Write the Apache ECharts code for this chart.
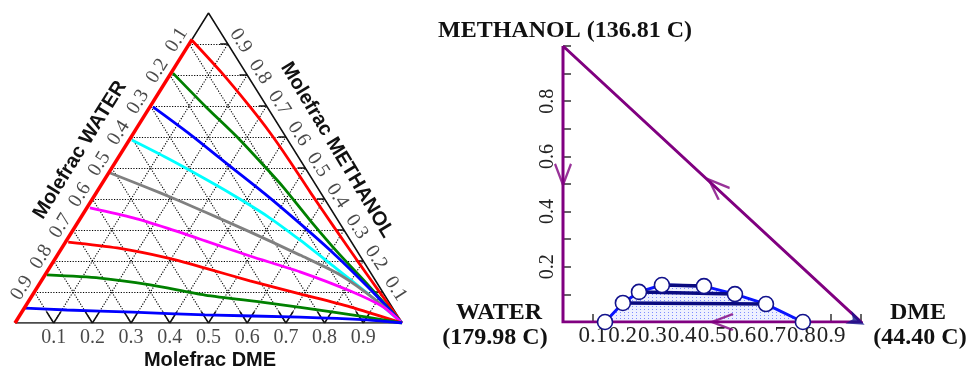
<!DOCTYPE html>
<html><head><meta charset="utf-8">
<script src="https://cdn.jsdelivr.net/npm/echarts@6/dist/echarts.min.js"></script>
<style>html,body{margin:0;padding:0;background:#fff}#c{width:971px;height:369px}</style>
</head><body><div id="c"></div>
<script>
// ===== Left ternary plot: curves as [x_DME, x_METHANOL] mole fractions =====
const curve09 = [[0,0.913],[0.132,0.806],[0.259,0.697],[0.353,0.613],[0.445,0.526],[0.555,0.419],[0.669,0.310],[0.782,0.203],[0.895,0.097],[1,0]];
const curve08 = [[0.005,0.806],[0.145,0.697],[0.274,0.600],[0.395,0.503],[0.473,0.439],[0.596,0.332],[0.722,0.226],[0.843,0.129],[1,0]];
const curve07 = [[0.008,0.697],[0.141,0.613],[0.272,0.526],[0.434,0.419],[0.573,0.323],[0.709,0.226],[0.854,0.116],[1,0]];
const curve06 = [[0.007,0.590],[0.127,0.532],[0.241,0.474],[0.357,0.413],[0.479,0.345],[0.602,0.268],[0.730,0.184],[0.861,0.097],[1,0]];
const curve05 = [[0.004,0.484],[0.110,0.442],[0.221,0.397],[0.312,0.358],[0.460,0.294],[0.627,0.219],[0.763,0.155],[0.900,0.071],[1,0]];
const curve04 = [[0.008,0.371],[0.136,0.339],[0.240,0.306],[0.359,0.265],[0.499,0.216],[0.654,0.165],[0.815,0.103],[0.925,0.052],[1,0]];
const curve03 = [[0.007,0.261],[0.143,0.242],[0.288,0.210],[0.403,0.177],[0.539,0.136],[0.689,0.094],[0.840,0.052],[1,0]];
const curve02 = [[0.005,0.155],[0.147,0.145],[0.288,0.123],[0.446,0.090],[0.619,0.065],[0.805,0.035],[0.900,0.019],[1,0]];
const curve01 = [[0.002,0.048],[0.113,0.042],[0.287,0.035],[0.478,0.026],[0.727,0.019],[0.905,0.010],[1,0]];
const leftEdge = [[0,0],[0,0.915]];
const curves = [curve09, curve08, curve07, curve06, curve05, curve04, curve03, curve02, curve01];
const curveColors = ['#ff0000','#008000','#0000ff','#00ffff','#808080','#ff00ff','#ff0000','#008000','#0000ff'];
const gridLevels = [0.1,0.2,0.3,0.4,0.5,0.6,0.7,0.8,0.9];
const tickLabels = ['0.1','0.2','0.3','0.4','0.5','0.6','0.7','0.8','0.9'];

// ===== Right plot: LLE envelope (x = DME, y = METHANOL) =====
const binodalX = [0.141, 0.201, 0.255, 0.332, 0.473, 0.577, 0.681, 0.805];
const binodalY = [0.000, 0.069, 0.109, 0.134, 0.130, 0.101, 0.065, 0.000];
const tieLines = [[1,6],[2,5],[3,4]];
const edgePath = [[0,1],[0,0],[1,0],[0,1]];
const arrowPts = [[0,0.535,0],[0.535,0,-90],[0.515,0.49,-133]]; // x, y, rotation
const dmeArrow = [[0.985,0.004]];

// ---- helpers
const tern = p => [p[0] + p[1] / 2, p[1]];
const SERIF = 'Liberation Serif';

const series = [];
// dotted grid
const gl = [];
gridLevels.forEach(v => {
  gl.push({coords: [tern([0, v]), tern([1 - v, v])]});
  gl.push({coords: [tern([v, 0]), tern([v, 1 - v])]});
  gl.push({coords: [tern([1 - v, 0]), tern([0, 1 - v])]});
});
series.push({type:'lines', coordinateSystem:'cartesian2d', xAxisIndex:0, yAxisIndex:0, z:1, silent:true,
  lineStyle:{color:'#000', width:1.1, type:[1.2,1.5], opacity:1}, data: gl});
// solid ticks
const tk = [];
gridLevels.forEach(v => {
  tk.push({coords: [tern([v, 0]), tern([v, 0.037])]});
  tk.push({coords: [tern([v, 0]), tern([v - 0.037, 0.037])]});
  tk.push({coords: [tern([1 - v, v]), tern([1 - v - 0.02, v])]});
});
series.push({type:'lines', coordinateSystem:'cartesian2d', xAxisIndex:0, yAxisIndex:0, z:2, silent:true,
  lineStyle:{color:'#111', width:1.5, type:'solid', opacity:1}, data: tk});
// outline
series.push({type:'line', xAxisIndex:0, yAxisIndex:0, z:2, showSymbol:false, silent:true,
  lineStyle:{color:'#111', width:1.5}, data:[[0,0],[1,0],[0,1],[0,0]].map(tern)});
// curves
curves.forEach((c, i) => {
  series.push({type:'line', xAxisIndex:0, yAxisIndex:0, z:3, showSymbol:false, silent:true, smooth:0.25,
    lineStyle:{color:curveColors[i], width:2.8}, data: c.map(tern)});
});
series.push({type:'line', xAxisIndex:0, yAxisIndex:0, z:4, showSymbol:false, silent:true,
  lineStyle:{color:'#ff0000', width:3.5}, data: leftEdge.map(tern)});
// tick labels (anchors derived from tick values)
function labelSeries(points, rot) {
  return {type:'scatter', xAxisIndex:0, yAxisIndex:0, z:6, symbol:'circle', symbolSize:1, silent:true, clip:false,
    itemStyle:{color:'rgba(0,0,0,0)'},
    label:{show:true, position:'inside', rotate:rot, fontFamily:SERIF, fontSize:20, color:'#1a1a1a',
      formatter: p => tickLabels[p.dataIndex]},
    data: points};
}
series.push(labelSeries(gridLevels.map(v => [v, -0.047]), 0));
series.push(labelSeries(gridLevels.map(v => { const p = tern([1 - v, v]); return [p[0] + 0.033, p[1] + 0.01]; }), -57));
series.push(labelSeries(gridLevels.map(v => { const p = tern([0, 1 - v]); return [p[0] - 0.032, p[1] + 0.013]; }), 58));

// ---- right plot
const pat = document.createElement('canvas'); pat.width = 4; pat.height = 3;
const g = pat.getContext('2d'); g.fillStyle = '#eef0ff'; g.fillRect(0,0,4,3); g.fillStyle = '#7f8cff'; g.fillRect(0,0,1,1);
const binodal = binodalX.map((x, i) => [x, binodalY[i]]);
series.push({type:'line', xAxisIndex:1, yAxisIndex:1, z:3, showSymbol:false, silent:true,
  lineStyle:{color:'#0a14ff', width:3}, areaStyle:{color:{image:pat, repeat:'repeat'}, opacity:1}, data: binodal});
series.push({type:'line', xAxisIndex:1, yAxisIndex:1, z:4, showSymbol:false, silent:true,
  lineStyle:{color:'#800080', width:3, join:'miter'}, data: edgePath});
series.push({type:'lines', coordinateSystem:'cartesian2d', xAxisIndex:1, yAxisIndex:1, z:5, silent:true,
  lineStyle:{color:'#0a0a80', width:3.5, opacity:1},
  data: tieLines.map(t => ({coords:[binodal[t[0]], binodal[t[1]]]}))});
series.push({type:'scatter', xAxisIndex:1, yAxisIndex:1, z:6, silent:true, symbol:'circle', symbolSize:15,
  itemStyle:{color:'#ffffff', borderColor:'#12128c', borderWidth:1.6, opacity:1}, data: binodal});
series.push({type:'scatter', xAxisIndex:1, yAxisIndex:1, z:7, silent:true,
  symbol:'path://M0,0 L10,16 L20,0', symbolSize:[16,21],
  itemStyle:{color:'none', borderColor:'#800080', borderWidth:2.6},
  data: arrowPts.map(a => ({value:[a[0], a[1]], symbolRotate: a[2]}))});
series.push({type:'scatter', xAxisIndex:1, yAxisIndex:1, z:7, silent:true,
  symbol:'path://M0,0 L22,9 L0,18 L6,9 Z', symbolSize:[18,14], symbolRotate:-25,
  itemStyle:{color:'#14148c'}, data: dmeArrow});

const option = {
  animation:false,
  backgroundColor:'#fff',
  grid:[{left:15, top:13, width:387, height:310}, {left:563, top:46, width:298, height:276}],
  xAxis:[
    {gridIndex:0, type:'value', min:0, max:1, show:false},
    {gridIndex:1, type:'value', min:0, max:1, interval:0.1,
      axisLine:{show:false}, splitLine:{show:false},
      axisTick:{show:true, inside:true, length:8, lineStyle:{color:'#333', width:1.5}},
      axisLabel:{margin:2, fontFamily:SERIF, fontSize:23, color:'#222',
        formatter: v => (v > 0.001 && v < 0.999) ? v.toFixed(1) : ''}}
  ],
  yAxis:[
    {gridIndex:0, type:'value', min:0, max:1, show:false},
    {gridIndex:1, type:'value', min:0, max:1, interval:0.1,
      axisLine:{show:false}, splitLine:{show:false},
      axisTick:{show:true, inside:true, length:8, lineStyle:{color:'#333', width:1.5}},
      axisLabel:{margin:5, rotate:90, fontFamily:SERIF, fontSize:20, color:'#222',
        formatter: v => { const k = Math.round(v * 10); return (k > 0 && k < 10 && k % 2 === 0) ? v.toFixed(1) : ''; }}}
  ],
  graphic:[
    {type:'text', x:210, y:360, style:{text:'Molefrac DME', font:'bold 20px "Liberation Sans"', fill:'#111', textAlign:'center', textVerticalAlign:'middle'}},
    {type:'text', x:80, y:150, rotation:58*Math.PI/180, style:{text:'Molefrac WATER', font:'bold 20px "Liberation Sans"', fill:'#111', textAlign:'center', textVerticalAlign:'middle'}},
    {type:'text', x:337, y:150, rotation:-59*Math.PI/180, style:{text:'Molefrac METHANOL', font:'bold 20px "Liberation Sans"', fill:'#111', textAlign:'center', textVerticalAlign:'middle'}},
    {type:'text', x:438, y:31, style:{text:'METHANOL (136.81 C)', font:'bold 24px "Liberation Serif"', fill:'#111', textAlign:'left', textVerticalAlign:'middle'}},
    {type:'text', x:499, y:313, style:{text:'WATER', font:'bold 24px "Liberation Serif"', fill:'#111', textAlign:'center', textVerticalAlign:'middle'}},
    {type:'text', x:495, y:338, style:{text:'(179.98 C)', font:'bold 24px "Liberation Serif"', fill:'#111', textAlign:'center', textVerticalAlign:'middle'}},
    {type:'text', x:918, y:313, style:{text:'DME', font:'bold 24px "Liberation Serif"', fill:'#111', textAlign:'center', textVerticalAlign:'middle'}},
    {type:'text', x:920, y:338, style:{text:'(44.40 C)', font:'bold 24px "Liberation Serif"', fill:'#111', textAlign:'center', textVerticalAlign:'middle'}}
  ],
  series: series
};
const chart = echarts.init(document.getElementById('c'), null, {renderer:'canvas'});
chart.setOption(option);
</script>
</body></html>
